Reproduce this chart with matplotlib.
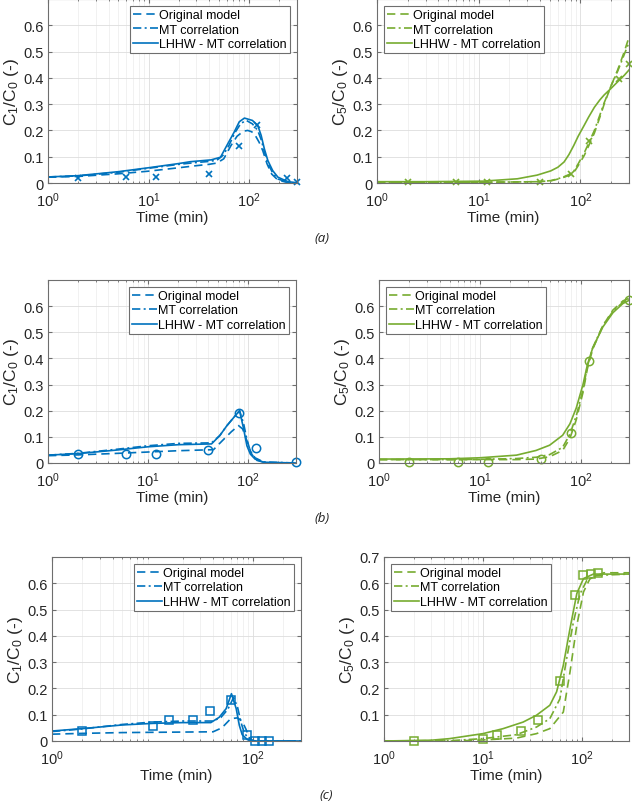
import matplotlib
matplotlib.use("Agg")
import matplotlib.pyplot as plt
from matplotlib.ticker import FixedLocator, LogLocator, NullFormatter, FixedFormatter

plt.rcParams['font.family'] = ['Liberation Sans', 'DejaVu Sans']
plt.rcParams['mathtext.fontset'] = 'custom'
plt.rcParams['mathtext.rm'] = 'Liberation Sans'
plt.rcParams['mathtext.it'] = 'Liberation Sans:italic'
plt.rcParams['mathtext.bf'] = 'Liberation Sans:bold'

BLUE = '#0072BD'
GREEN = '#77AC30'

labels = ['Original model', 'MT correlation', 'LHHW - MT correlation']

# ---------------- (a) left: C1/C0 ----------------
a1_t_orig = [1, 2, 5, 10, 20, 30, 40, 48, 56, 66, 76, 88, 97, 106, 113, 126, 137, 151, 168, 194, 240, 300]
a1_orig = [0.022, 0.025, 0.035, 0.045, 0.058, 0.066, 0.071, 0.076, 0.092, 0.142, 0.178, 0.197, 0.2, 0.195,
           0.187, 0.155, 0.123, 0.073, 0.034, 0.011, 0.002, 0.0]
a1_t_mt = [1, 2, 5, 10, 20, 30, 40, 48, 55, 63, 72, 83, 94, 108, 122, 132, 142, 154, 172, 194, 244, 300]
a1_mt = [0.023, 0.027, 0.041, 0.056, 0.071, 0.078, 0.082, 0.087, 0.105, 0.142, 0.19, 0.227, 0.238, 0.225,
         0.2, 0.165, 0.12, 0.075, 0.038, 0.015, 0.003, 0.0]
a1_t_lh = [1, 2, 5, 10, 20, 26, 42, 52, 60, 71, 80, 90, 108, 122, 132, 142, 154, 172, 194, 244, 300]
a1_lh = [0.023, 0.028, 0.043, 0.058, 0.074, 0.081, 0.088, 0.098, 0.142, 0.193, 0.233, 0.247, 0.238, 0.219,
         0.181, 0.13, 0.085, 0.047, 0.022, 0.005, 0.001]
a1_t_exp = [2, 6, 12, 40, 80, 120, 240, 300]
a1_exp = [0.02, 0.022, 0.022, 0.034, 0.142, 0.221, 0.018, 0.005]

# ---------------- (a) right: C5/C0 ----------------
a2_t = [1, 3, 11, 24, 37.5, 51, 60, 69, 77, 86, 95, 109, 120, 137, 155, 171, 200, 232, 270, 300]
a2_orig = [0.003, 0.003, 0.003, 0.004, 0.005, 0.008, 0.015, 0.022, 0.029, 0.04, 0.066, 0.105, 0.14, 0.19,
           0.25, 0.3, 0.37, 0.43, 0.5, 0.555]
a2_mt = [0.003, 0.003, 0.003, 0.004, 0.005, 0.009, 0.016, 0.024, 0.032, 0.045, 0.073, 0.115, 0.15, 0.2,
         0.258, 0.305, 0.37, 0.425, 0.49, 0.535]
a2_lh = [0.005, 0.005, 0.007, 0.016, 0.03, 0.046, 0.06, 0.08, 0.108, 0.143, 0.178, 0.22, 0.25, 0.288,
         0.316, 0.335, 0.36, 0.385, 0.41, 0.43]
a2_t_exp = [2, 6, 12, 40, 80, 120, 240, 300]
a2_exp = [0.002, 0.002, 0.002, 0.004, 0.033, 0.16, 0.395, 0.454]

# ---------------- (b) left: C1/C0 ----------------
b1_t_orig = [1, 2, 5, 10, 20, 45, 55, 68, 80, 88, 97, 108, 122, 150, 300]
b1_orig = [0.028, 0.031, 0.037, 0.042, 0.047, 0.051, 0.085, 0.12, 0.143, 0.13, 0.085, 0.034, 0.01, 0.001, 0.0]
b1_t_mt = [1, 2, 5, 10, 20, 43, 52, 61, 72, 82, 90, 97, 105, 117, 142, 300]
b1_mt = [0.03, 0.037, 0.053, 0.066, 0.075, 0.077, 0.105, 0.142, 0.175, 0.2, 0.15, 0.09, 0.045, 0.02, 0.004, 0.0]
b1_t_lh = [1, 2, 5, 10, 20, 43, 52, 61, 72, 82, 90, 97, 105, 117, 142, 300]
b1_lh = [0.03, 0.036, 0.05, 0.062, 0.07, 0.073, 0.105, 0.142, 0.175, 0.2, 0.13, 0.066, 0.034, 0.015, 0.003, 0.0]
b1_t_exp = [2, 6, 12, 40, 80, 120, 300]
b1_exp = [0.033, 0.033, 0.036, 0.048, 0.19, 0.057, 0.004]

# ---------------- (b) right: C5/C0 ----------------
b2_t = [1, 5, 10, 23, 36, 49, 66, 78, 90, 105, 116, 131, 165, 208, 261, 300]
b2_orig = [0.013, 0.013, 0.013, 0.013, 0.015, 0.024, 0.048, 0.095, 0.165, 0.27, 0.36, 0.435, 0.525, 0.585,
           0.62, 0.63]
b2_mt = [0.013, 0.013, 0.014, 0.017, 0.022, 0.032, 0.06, 0.11, 0.18, 0.28, 0.37, 0.44, 0.525, 0.58,
         0.615, 0.628]
b2_lh = [0.015, 0.016, 0.02, 0.03, 0.048, 0.068, 0.106, 0.15, 0.21, 0.3, 0.375, 0.44, 0.52, 0.575,
         0.61, 0.622]
b2_t_exp = [2, 6, 12, 40, 80, 120, 300]
b2_exp = [0.004, 0.004, 0.004, 0.017, 0.116, 0.389, 0.622]

# ---------------- (c) left: C1/C0 ----------------
c1_t_orig = [1, 2, 5, 10, 20, 40, 49, 60, 70, 78, 85, 92, 100, 300]
c1_orig = [0.026, 0.029, 0.032, 0.033, 0.034, 0.035, 0.05, 0.085, 0.088, 0.075, 0.045, 0.012, 0.0, 0.0]
c1_t_mt = [1, 2, 5, 10, 20, 40, 48, 56, 64, 70, 76, 82, 92, 105, 300]
c1_mt = [0.036, 0.046, 0.063, 0.072, 0.076, 0.076, 0.09, 0.12, 0.165, 0.13, 0.07, 0.03, 0.006, 0.0, 0.0]
c1_t_lh = [1, 2, 5, 10, 20, 38, 46, 54, 61, 68, 73, 78, 88, 100, 300]
c1_lh = [0.038, 0.047, 0.061, 0.067, 0.07, 0.07, 0.09, 0.123, 0.18, 0.123, 0.06, 0.024, 0.005, 0.0, 0.0]
c1_t_exp = [2, 10, 14.5, 25, 37, 61, 87, 105, 123, 145]
c1_exp = [0.038, 0.057, 0.078, 0.078, 0.115, 0.155, 0.023, 0.0, 0.0, 0.0]

# ---------------- (c) right: C5/C0 ----------------
c2_t_orig = [1, 5, 10, 21.8, 34.8, 47.5, 65, 76, 89, 104, 121, 167, 300]
c2_orig = [0.0, 0.0, 0.004, 0.011, 0.028, 0.047, 0.11, 0.263, 0.44, 0.567, 0.618, 0.64, 0.64]
c2_t_mt = [1, 5, 10, 21.8, 34.8, 47.5, 60, 70, 82, 96, 112, 141, 300]
c2_mt = [0.0, 0.002, 0.009, 0.024, 0.053, 0.085, 0.16, 0.31, 0.45, 0.56, 0.61, 0.63, 0.635]
c2_t_lh = [1, 3, 4.6, 10, 16, 25.5, 34.8, 47.5, 55.6, 65, 76, 89, 104, 131, 300]
c2_lh = [0.0, 0.003, 0.009, 0.028, 0.047, 0.072, 0.098, 0.136, 0.187, 0.288, 0.428, 0.561, 0.618, 0.635, 0.635]
c2_t_exp = [2, 10, 14, 24, 36, 60, 85, 104, 123, 145]
c2_exp = [0.0, 0.009, 0.022, 0.037, 0.079, 0.228, 0.555, 0.633, 0.637, 0.64]

W, H = 632, 803
fig = plt.figure(figsize=(W / 100, H / 100), dpi=100)


def pos(l, t, r, b):
    return [l / W, 1 - b / H, (r - l) / W, (b - t) / H]


def panel(rect, color, curves, exp, marker, ylab, legloc, yticks, xmajor):
    ax = fig.add_axes(pos(*rect))
    ax.set_xscale('log')
    ax.set_xlim(1, 300)
    ax.set_ylim(0, 0.7)
    (to, vo), (tm, vm), (tl, vl) = curves
    l1, = ax.plot(to, vo, color=color, lw=1.2, dashes=(5, 3))
    l2, = ax.plot(tm, vm, color=color, lw=1.2, dashes=(5, 2, 1.2, 2))
    l3, = ax.plot(tl, vl, color=color, lw=1.2, ls='-')
    te, ve = exp
    if marker == 'x':
        ax.plot(te, ve, ls='none', marker='x', ms=5, mew=1.2, color=color, clip_on=False)
    else:
        ax.plot(te, ve, ls='none', marker=marker, ms=6 if marker == 'o' else 5.5, mew=1.1,
                mfc='none', mec=color, clip_on=False)
    ax.set_yticks(yticks)
    ax.set_yticklabels([('%g' % v) for v in yticks])
    ax.xaxis.set_major_locator(FixedLocator(xmajor))
    ax.xaxis.set_major_formatter(FixedFormatter([r'$10^{%d}$' % {1: 0, 10: 1, 100: 2}[v] for v in xmajor]))
    ax.xaxis.set_minor_locator(LogLocator(base=10, subs=range(2, 10)))
    ax.xaxis.set_minor_formatter(NullFormatter())
    ax.grid(True, which='major', color='#dddddd', lw=0.6)
    ax.grid(True, which='minor', axis='x', color='#ececec', lw=0.5)
    ax.set_axisbelow(True)
    for s in ax.spines.values():
        s.set_color('#6e6e6e')
        s.set_linewidth(0.8)
    ax.tick_params(which='both', direction='in', top=True, right=True, labelsize=10.5,
                   colors='#6e6e6e', labelcolor='#262626')
    ax.tick_params(which='major', length=3)
    ax.tick_params(which='minor', length=1.5)
    ax.tick_params(axis='x', which='major', pad=5)
    ax.tick_params(axis='y', which='major', pad=3)
    ax.set_xlabel('Time (min)', fontsize=11, color='#262626', labelpad=1)
    ax.set_ylabel(ylab, fontsize=12.5, color='#262626', labelpad=2)
    leg = ax.legend([l1, l2, l3], labels, loc=legloc, fontsize=9, handlelength=2.0,
                    handletextpad=0.1, borderpad=0.25, labelspacing=0.2, borderaxespad=0.55,
                    fancybox=False, framealpha=1, edgecolor='#6e6e6e')
    leg.get_frame().set_linewidth(0.8)
    return ax


y1 = r'C$_1$/C$_0$ (-)'
y5 = r'C$_5$/C$_0$ (-)'
yt06 = [0, 0.1, 0.2, 0.3, 0.4, 0.5, 0.6]
yt07 = [0.1, 0.2, 0.3, 0.4, 0.5, 0.6, 0.7]

panel((48, 0, 297, 184), BLUE, [(a1_t_orig, a1_orig), (a1_t_mt, a1_mt), (a1_t_lh, a1_lh)],
      (a1_t_exp, a1_exp), 'x', y1, 'upper right', yt06, [1, 10, 100])
panel((377, 0, 629, 184), GREEN, [(a2_t, a2_orig), (a2_t, a2_mt), (a2_t, a2_lh)],
      (a2_t_exp, a2_exp), 'x', y5, 'upper left', yt06, [1, 10, 100])
panel((48, 281, 296, 464), BLUE, [(b1_t_orig, b1_orig), (b1_t_mt, b1_mt), (b1_t_lh, b1_lh)],
      (b1_t_exp, b1_exp), 'o', y1, 'upper right', yt06, [1, 10, 100])
panel((379, 281, 629, 464), GREEN, [(b2_t, b2_orig), (b2_t, b2_mt), (b2_t, b2_lh)],
      (b2_t_exp, b2_exp), 'o', y5, 'upper left', yt06, [1, 10, 100])
panel((52, 558, 301, 742), BLUE, [(c1_t_orig, c1_orig), (c1_t_mt, c1_mt), (c1_t_lh, c1_lh)],
      (c1_t_exp, c1_exp), 's', y1, 'upper right', yt06, [1, 100])
panel((384, 558, 629, 742), GREEN, [(c2_t_orig, c2_orig), (c2_t_mt, c2_mt), (c2_t_lh, c2_lh)],
      (c2_t_exp, c2_exp), 's', y5, 'upper left', yt07, [1, 10, 100])

for txt, ypx, xpx in [('(a)', 238, 322), ('(b)', 518, 322), ('(c)', 796, 326)]:
    fig.text(xpx / W, 1 - ypx / H, txt, ha='center', va='center', fontsize=9.5,
             style='italic', family=['Open Sans', 'DejaVu Sans'], color='#222222')

fig.savefig('out.png', dpi=100)
